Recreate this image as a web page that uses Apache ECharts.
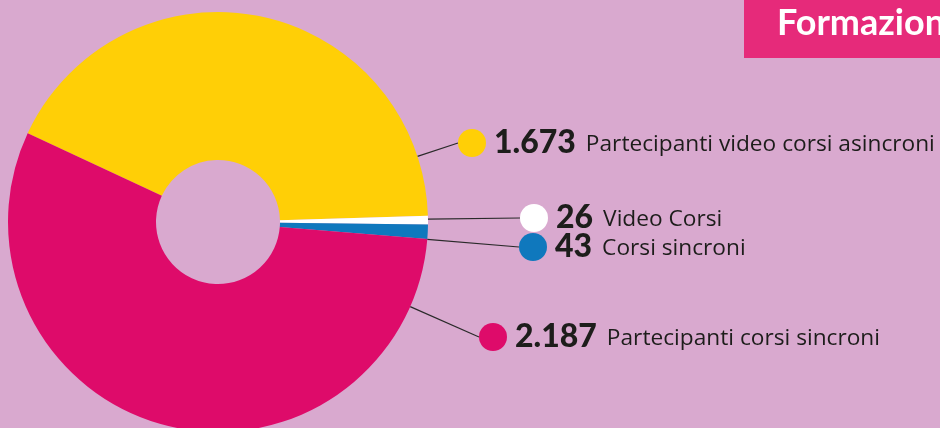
<!DOCTYPE html>
<html>
<head>
<meta charset="utf-8">
<script src="https://cdn.jsdelivr.net/npm/echarts@6/dist/echarts.min.js"></script>
<style>
  html, body { margin: 0; padding: 0; background: #d9a9cf; }
  #chart { width: 940px; height: 428px; }
</style>
</head>
<body>
<div id="chart"></div>
<script>
// data
var names = ["Partecipanti video corsi asincroni", "Video Corsi", "Corsi sincroni", "Partecipanti corsi sincroni"];
var values = [1673, 26, 43, 2187];
var colors = ["#ffcf06", "#ffffff", "#0f78bd", "#de0b6a"];

// where each label (dot + text) sits
var labelPos = [[458, 143], [520, 218], [519, 247], [479, 337]];

var CENTER = [218, 222];
var OUTER = 210;

function fmt(n) {
    return String(n).replace(/\B(?=(\d{3})+(?!\d))/g, ".");
}

document.addEventListener("DOMContentLoaded", function () {
    var chart = echarts.init(document.getElementById("chart"));

    var rich = {
        num: { fontFamily: "Lato", fontSize: 32, fontWeight: 900, color: "#1d1d1b", padding: [0, 0, 0, 8] },
        txt: { fontFamily: "Open Sans", fontSize: 22.7, color: "#1d1d1b", padding: [3, 0, 0, 10] }
    };
    colors.forEach(function (c, i) {
        rich["d" + i] = { width: 28, height: 28, borderRadius: 14, backgroundColor: c };
    });

    chart.setOption({
        backgroundColor: "#d9a9cf",
        animation: false,
        graphic: [
            { type: "rect", left: 744, top: 0, shape: { width: 200, height: 58 }, style: { fill: "#e62a7a" } },
            { type: "text", x: 777, y: 5, style: { text: "Formazione", fill: "#fff", font: "bold 36px Lato" } }
        ],
        series: [{
            type: "pie",
            silent: true,
            center: CENTER,
            radius: [62, OUTER],
            startAngle: 155,
            clockwise: true,
            avoidLabelOverlap: false,
            itemStyle: { borderWidth: 0 },
            label: {
                show: true,
                position: "outside",
                formatter: function (p) {
                    return "{d" + p.dataIndex + "|}{num|" + fmt(p.value) + "}{txt|" + p.name + "}";
                },
                rich: rich
            },
            labelLine: {
                show: true,
                length: 10,
                length2: 0,
                lineStyle: { color: "#2a2a2a", width: 1.2 }
            },
            labelLayout: function (params) {
                var p = labelPos[params.dataIndex];
                // line runs straight from the ring edge toward the dot
                var dx = p[0] - CENTER[0], dy = p[1] - CENTER[1];
                var d = Math.sqrt(dx * dx + dy * dy);
                var start = [CENTER[0] + dx / d * OUTER, CENTER[1] + dy / d * OUTER];
                return {
                    x: p[0], y: p[1], align: "left", verticalAlign: "middle",
                    labelLinePoints: [start, start, [p[0], p[1]]]
                };
            },
            data: names.map(function (n, i) {
                return { name: n, value: values[i], itemStyle: { color: colors[i] } };
            })
        }]
    });

    window.addEventListener("resize", function () {
        chart.resize();
    });
});
</script>
</body>
</html>
